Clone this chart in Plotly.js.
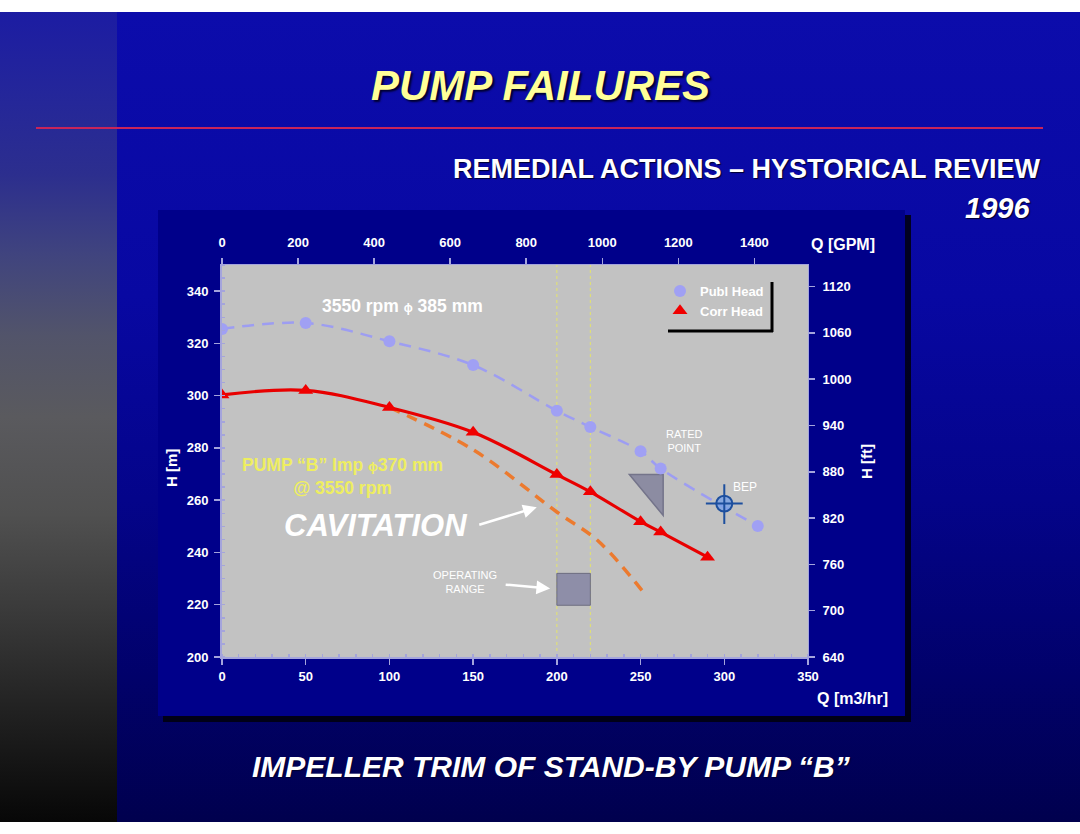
<!DOCTYPE html>
<html>
<head>
<meta charset="utf-8">
<script src="https://cdn.plot.ly/plotly-3.0.1.min.js"></script>
<style>
  html, body { margin:0; padding:0; background:#ffffff; }
  #slide { position:absolute; left:0; top:12px; width:1080px; height:810px;
    background: linear-gradient(to bottom, #0c0cab 0%, #0808a2 35%, #04048a 60%, #01016a 82%, #00004e 100%); }
  #strip { position:absolute; left:0; top:12px; width:117px; height:810px;
    background: linear-gradient(to bottom, #1c1ca2 0%, #24269a 10%, #2c2e8e 20%, #40447e 30%, #52546a 40%, #5a5a5e 50%, #505050 62%, #3a3a3a 74%, #222222 86%, #070707 100%); }
  #chart { position:absolute; left:0; top:0; width:1080px; height:834px; }
</style>
</head>
<body>
<div id="slide"></div>
<div id="strip"></div>
<div id="chart"></div>
<script>
// ---------- data ----------
const qPubl = [0, 50, 100, 150, 200, 220, 250, 262, 320];          // m3/hr
const hPubl = [325.5, 327.8, 320.8, 311.7, 294.2, 288.0, 278.7, 272.1, 250.1]; // m
const qCorr = [0, 50, 100, 150, 200, 220, 250, 262, 290];
const hCorr = [300.3, 302.0, 295.5, 286.0, 269.8, 263.2, 251.8, 247.8, 238.2];
const qCav  = [100, 150, 200, 225, 252];
const hCav  = [295.5, 279.3, 255.5, 244.2, 224.5];
const opRangeQ = [200, 220];
const opRangeH = [219.8, 232.0];
const ratedQ = [243.3, 263.5];
const ratedH = [254.2, 269.8];
const bepQ = [300];
const bepH = [258.7];
const qTicks   = [0, 50, 100, 150, 200, 250, 300, 350];
const hTicks   = [200, 220, 240, 260, 280, 300, 320, 340];
const gpmTicks = [0, 200, 400, 600, 800, 1000, 1200, 1400];
const ftTicks  = [640, 700, 760, 820, 880, 940, 1000, 1060, 1120];
const qRange = [0, 350], hRange = [200, 350];
const gpmRange = [0, 1541], ftRange = [640, 1148];

// ---------- helpers (pixel -> paper) ----------
const L = 222, R = 808, T = 265, B = 657;
const px = x => (x - L) / (R - L);
const py = y => (B - y) / (B - T);
const FAM = 'Liberation Sans, Arial, sans-serif';
const AX = '#a4a4dc';

const traces = [
  { x: qCav, y: hCav, mode: 'lines', line: { color: '#ec7a2e', width: 3.5, dash: '11px,8px', shape: 'spline' },
    showlegend: false, hoverinfo: 'skip' },
  { x: qPubl, y: hPubl, mode: 'lines', line: { color: '#9d9df2', width: 2.5, dash: '12px,8px', shape: 'spline' },
    showlegend: false, hoverinfo: 'skip' },
  { x: qCorr, y: hCorr, mode: 'lines', line: { color: '#e80000', width: 3.2, shape: 'spline' },
    showlegend: false, hoverinfo: 'skip' },
  { x: qPubl, y: hPubl, mode: 'markers', name: 'Publ Head',
    marker: { symbol: 'circle', size: 12, color: '#a0a0f4' } },
  { x: qCorr, y: hCorr, mode: 'markers', name: 'Corr Head',
    marker: { symbol: 'triangle-up', size: 13, color: '#f00000' } },
  { x: [null], y: [null], xaxis: 'x2', yaxis: 'y2', mode: 'markers', showlegend: false, hoverinfo: 'skip' }
];

const tickFont = { family: FAM, size: 13, color: '#ffffff', weight: 'bold' };
const baseAxis = {
  showgrid: false, zeroline: false, showline: true, linecolor: AX, linewidth: 2,
  ticks: 'outside', ticklen: 6, tickwidth: 1.5, tickcolor: AX, tickfont: tickFont, fixedrange: true
};

const shapes = [
  // slide header rule
  { type: 'line', xref: 'paper', yref: 'paper', x0: px(36), x1: px(1043), y0: py(128), y1: py(128),
    line: { color: '#c8245a', width: 2 }, layer: 'below' },
  // chart panel shadow + panel
  { type: 'rect', xref: 'paper', yref: 'paper', x0: px(163), x1: px(911), y0: py(722), y1: py(215),
    fillcolor: 'rgba(0,0,10,0.85)', line: { width: 0 }, layer: 'below' },
  { type: 'rect', xref: 'paper', yref: 'paper', x0: px(158), x1: px(905), y0: py(716), y1: py(210),
    fillcolor: '#00008a', line: { width: 0 }, layer: 'below' },
  // plot area
  { type: 'rect', xref: 'paper', yref: 'paper', x0: 0, x1: 1, y0: 0, y1: 1,
    fillcolor: '#c2c2c2', line: { width: 0 }, layer: 'below' },
  // operating range limits
  { type: 'line', xref: 'x', yref: 'paper', x0: opRangeQ[0], x1: opRangeQ[0], y0: 0, y1: 1,
    line: { color: '#e4e46c', width: 1, dash: 'dot' }, layer: 'below' },
  { type: 'line', xref: 'x', yref: 'paper', x0: opRangeQ[1], x1: opRangeQ[1], y0: 0, y1: 1,
    line: { color: '#e4e46c', width: 1, dash: 'dot' }, layer: 'below' },
  // operating range box
  { type: 'rect', xref: 'x', yref: 'y', x0: opRangeQ[0], x1: opRangeQ[1], y0: opRangeH[0], y1: opRangeH[1],
    fillcolor: '#8e8ea8', line: { color: '#6e6e80', width: 1 }, layer: 'below' },
  // rated point marker
  { type: 'path', xref: 'x', yref: 'y',
    path: `M ${ratedQ[0]},${ratedH[1]} L ${ratedQ[1]},${ratedH[1]} L ${ratedQ[1]},${ratedH[0]} Z`,
    fillcolor: '#8c8ca2', line: { color: '#74748a', width: 1.5 }, layer: 'below' },
  // BEP crosshair
  { type: 'circle', xref: 'x', yref: 'y', x0: bepQ[0] - 4.8, x1: bepQ[0] + 4.8, y0: bepH[0] - 3.05, y1: bepH[0] + 3.05,
    fillcolor: 'rgba(120,160,230,0.8)', line: { color: '#1d4f9e', width: 2 }, layer: 'above' },
  { type: 'line', xref: 'x', yref: 'y', x0: bepQ[0] - 11, x1: bepQ[0] + 11, y0: bepH[0], y1: bepH[0],
    line: { color: '#1d4f9e', width: 2 }, layer: 'above' },
  { type: 'line', xref: 'x', yref: 'y', x0: bepQ[0], x1: bepQ[0], y0: bepH[0] - 7.8, y1: bepH[0] + 7.4,
    line: { color: '#1d4f9e', width: 2 }, layer: 'above' },
  // legend shadow
  { type: 'line', xref: 'paper', yref: 'paper', x0: px(772), x1: px(772), y0: py(332), y1: py(282),
    line: { color: '#000000', width: 3 }, layer: 'above' },
  { type: 'line', xref: 'paper', yref: 'paper', x0: px(668), x1: px(773), y0: py(331), y1: py(331),
    line: { color: '#000000', width: 3 }, layer: 'above' }
];

const wb = (size, color, extra) => Object.assign({ family: FAM, size: size, color: color, weight: 'bold' }, extra || {});
const ann = (text, x, y, font, o) => Object.assign({ text: text, xref: 'paper', yref: 'paper', x: px(x), y: py(y),
  showarrow: false, font: font, xanchor: 'center', yanchor: 'middle' }, o || {});

const annotations = [
  ann('PUMP FAILURES', 540, 86, wb(42, '#ffff99', { style: 'italic', shadow: '2px 2px 2px #000030' })),
  ann('REMEDIAL ACTIONS – HYSTORICAL REVIEW', 1043, 169, wb(27, '#ffffff', { shadow: '1px 1px 1px #000030' }), { xanchor: 'right' }),
  ann('1996', 1032, 208, wb(29, '#ffffff', { style: 'italic', shadow: '1px 1px 1px #000030' }), { xanchor: 'right' }),
  ann('IMPELLER TRIM OF STAND-BY PUMP “B”', 551, 766, wb(30, '#ffffff', { style: 'italic', shadow: '1px 1px 1px #000030' })),
  // axis titles
  ann('Q [GPM]', 843, 244, wb(16, '#ffffff')),
  ann('Q [m3/hr]', 852, 698, wb(16, '#ffffff')),
  ann('H [m]', 171, 468, wb(15, '#ffffff'), { textangle: -90 }),
  ann('H [ft]', 866, 462, wb(15, '#ffffff'), { textangle: -90 }),
  // chart labels
  ann('3550 rpm <span style="font-size:12px">ϕ</span> 385 mm', 402, 306, wb(17.5, '#ffffff')),
  ann('PUMP “B” Imp <span style="font-size:13px">ϕ</span>370 mm<br>@ 3550 rpm', 342, 476, wb(17.5, '#eeee60')),
  ann('CAVITATION', 375, 525, wb(31, '#ffffff', { style: 'italic' })),
  ann('OPERATING<br>RANGE', 465, 582, { family: FAM, size: 11, color: '#ffffff' }),
  ann('RATED<br>POINT', 684, 441, { family: FAM, size: 11, color: '#ffffff' }),
  ann('BEP', 745, 487, { family: FAM, size: 12, color: '#ffffff' }),
  // arrows
  { xref: 'x', yref: 'y', x: 188, y: 257.3, ax: -59, ay: 18, text: '', showarrow: true,
    arrowhead: 2, arrowsize: 1.1, arrowwidth: 2.5, arrowcolor: '#ffffff' },
  { xref: 'x', yref: 'y', x: 196, y: 226.2, ax: -46, ay: -4, text: '', showarrow: true,
    arrowhead: 2, arrowsize: 1.1, arrowwidth: 2.5, arrowcolor: '#ffffff' }
];

const layout = {
  width: 1080, height: 834,
  margin: { l: L, r: 1080 - R, t: T, b: 834 - B, pad: 0 },
  paper_bgcolor: 'rgba(0,0,0,0)', plot_bgcolor: 'rgba(0,0,0,0)',
  font: { family: FAM, color: '#ffffff' },
  showlegend: true,
  legend: { x: px(660), y: py(276), xanchor: 'left', yanchor: 'top', bgcolor: 'rgba(0,0,0,0)',
    font: wb(13, '#ffffff'), itemwidth: 30, tracegroupgap: 0 },
  xaxis: Object.assign({}, baseAxis, { range: qRange, tickvals: qTicks,
    minor: { dtick: 10, ticks: 'inside', ticklen: 3, tickcolor: AX, showgrid: false } }),
  yaxis: Object.assign({}, baseAxis, { range: hRange, tickvals: hTicks, ticklabelstandoff: 3,
    minor: { dtick: 5, ticks: 'inside', ticklen: 3, tickcolor: AX, showgrid: false } }),
  xaxis2: Object.assign({}, baseAxis, { range: gpmRange, tickvals: gpmTicks, overlaying: 'x', side: 'top',
    anchor: 'y', linewidth: 1, ticklabelstandoff: 6 }),
  yaxis2: Object.assign({}, baseAxis, { range: ftRange, tickvals: ftTicks, overlaying: 'y', side: 'right',
    anchor: 'x', linewidth: 1, ticklabelstandoff: 5 }),
  shapes: shapes,
  annotations: annotations
};

Plotly.newPlot('chart', traces, layout, { displayModeBar: false, staticPlot: true });
</script>
</body>
</html>
